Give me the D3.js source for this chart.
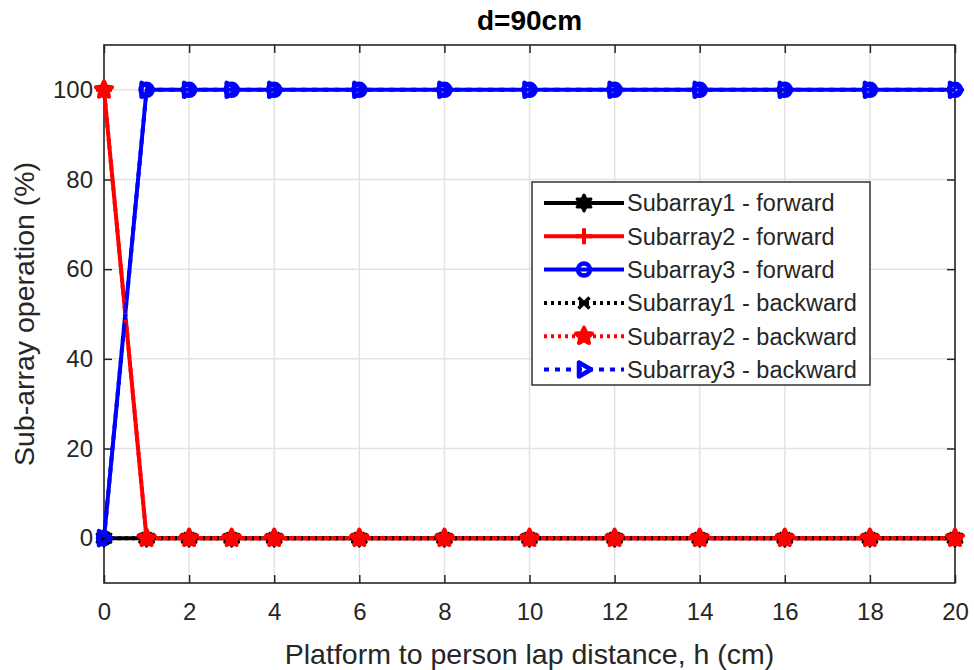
<!DOCTYPE html>
<html><head><meta charset="utf-8">
<script src="https://cdn.jsdelivr.net/npm/d3@7"></script>
<style>body{margin:0;background:#fff;} svg{display:block;font-family:"Liberation Sans",Arial,sans-serif;}</style>
</head><body>
<svg id="c" width="974" height="670"></svg>
<script>
const hValues = [0,1,2,3,4,6,8,10,12,14,16,18,20];
const sub1Forward = [0,0,0,0,0,0,0,0,0,0,0,0,0];
const sub2Forward = [100,0,0,0,0,0,0,0,0,0,0,0,0];
const sub3Forward = [0,100,100,100,100,100,100,100,100,100,100,100,100];
const sub1Backward = [0,0,0,0,0,0,0,0,0,0,0,0,0];
const sub2Backward = [100,0,0,0,0,0,0,0,0,0,0,0,0];
const sub3Backward = [0,100,100,100,100,100,100,100,100,100,100,100,100];
const seriesNames = ["Subarray1 - forward","Subarray2 - forward","Subarray3 - forward","Subarray1 - backward","Subarray2 - backward","Subarray3 - backward"];
const xTicks = [0,2,4,6,8,10,12,14,16,18,20];
const yTicks = [0,20,40,60,80,100];
const titleText = "d=90cm";
const xLabel = "Platform to person lap distance, h (cm)";
const yLabel = "Sub-array operation (%)";

const styles = [
  {color:"#000000", dash:null, marker:"hexagram"},
  {color:"#ff0000", dash:null, marker:"plus"},
  {color:"#0000ff", dash:null, marker:"circle"},
  {color:"#000000", dash:"3,4", marker:"x"},
  {color:"#ff0000", dash:"3,4", marker:"pentagram"},
  {color:"#0000ff", dash:"5,6", marker:"triright"}
];
const allData = [sub1Forward,sub2Forward,sub3Forward,sub1Backward,sub2Backward,sub3Backward];

const svg = d3.select("#c");
const L=104, R=955, T=45, B=583;
const x = d3.scaleLinear().domain([0,20]).range([L,R]);
const y = d3.scaleLinear().domain([-10,110]).range([B,T]);
const axisCol = "#262626";

// grid
const g = svg.append("g");
g.selectAll(".gx").data(xTicks).join("line").attr("x1",d=>x(d)).attr("x2",d=>x(d)).attr("y1",T).attr("y2",B).attr("stroke","#e3e3e3").attr("stroke-width",1.5);
g.selectAll(".gy").data(yTicks).join("line").attr("y1",d=>y(d)).attr("y2",d=>y(d)).attr("x1",L).attr("x2",R).attr("stroke","#e3e3e3").attr("stroke-width",1.5);

// axes
const xAxis = d3.axisBottom(x).tickValues(xTicks).tickSize(-8).tickPadding(20).tickFormat(d3.format("d"));
const xAxisT = d3.axisTop(x).tickValues(xTicks).tickSize(-8).tickFormat("");
const yAxis = d3.axisLeft(y).tickValues(yTicks).tickSize(-8).tickPadding(11).tickFormat(d3.format("d"));
const yAxisR = d3.axisRight(y).tickValues(yTicks).tickSize(-8).tickFormat("");
function styleAx(s){ s.select(".domain").remove(); s.selectAll("line").attr("stroke",axisCol).attr("stroke-width",1.5);
  s.selectAll("text").attr("fill",axisCol).attr("font-size",24).attr("font-family","Liberation Sans, Arial, sans-serif"); }
svg.append("g").attr("transform",`translate(0,${B})`).call(xAxis).call(styleAx);
svg.append("g").attr("transform",`translate(0,${T})`).call(xAxisT).call(styleAx);
svg.append("g").attr("transform",`translate(${L},0)`).call(yAxis).call(styleAx);
svg.append("g").attr("transform",`translate(${R},0)`).call(yAxisR).call(styleAx);
svg.append("rect").attr("x",L).attr("y",T).attr("width",R-L).attr("height",B-T).attr("fill","none").attr("stroke",axisCol).attr("stroke-width",1.6);

// marker shapes
function starPath(n, ro, ri){
  let p=[]; for(let i=0;i<2*n;i++){ const r=i%2?ri:ro; const a=-Math.PI/2+i*Math.PI/n; p.push([r*Math.cos(a), r*Math.sin(a)]); }
  return "M"+p.map(q=>q.join(",")).join("L")+"Z";
}
function drawMarker(sel, type, cx, cy, color){
  const m = sel.append("path").attr("transform",`translate(${cx},${cy})`).attr("stroke",color).attr("stroke-width",4).attr("fill","none").attr("stroke-linejoin","round");
  if(type==="circle") m.attr("d","M6,0A6,6 0 1,1 -6,0A6,6 0 1,1 6,0Z").attr("stroke-width",4.5);
  else if(type==="plus") m.attr("d","M-8,0L8,0M0,-8L0,8");
  else if(type==="x") m.attr("d","M-5.5,-5.5L5.5,5.5M-5.5,5.5L5.5,-5.5").attr("stroke-width",3.5);
  else if(type==="hexagram") m.attr("d",starPath(6,8,4.2)).attr("stroke-width",3).attr("fill",color);
  else if(type==="pentagram") m.attr("d",starPath(5,8.5,4)).attr("stroke-width",4).attr("fill",color);
  else if(type==="triright") m.attr("d","M7,0L-5,-7L-5,7Z").attr("stroke-width",4.5);
}

const line = d3.line().x((d,i)=>x(hValues[i])).y(d=>y(d));
allData.forEach((vals,k)=>{
  const st = styles[k];
  const gg = svg.append("g");
  gg.append("path").attr("d",line(vals)).attr("fill","none").attr("stroke",st.color).attr("stroke-width",4)
    .attr("stroke-dasharray",st.dash).attr("stroke-linejoin","round");
  vals.forEach((v,i)=>drawMarker(gg, st.marker, x(hValues[i]), y(v), st.color));
});

// legend
const lg = svg.append("g");
const lx=532, ly=182, lw=338, lh=203;
lg.append("rect").attr("x",lx).attr("y",ly).attr("width",lw).attr("height",lh).attr("fill","#fff").attr("stroke",axisCol).attr("stroke-width",1.4);
seriesNames.forEach((nm,k)=>{
  const st=styles[k]; const yy = ly+21+k*33.3;
  lg.append("line").attr("x1",lx+12).attr("x2",lx+92).attr("y1",yy).attr("y2",yy).attr("stroke",st.color).attr("stroke-width",4).attr("stroke-dasharray",st.dash);
  drawMarker(lg, st.marker, lx+52, yy, st.color);
  lg.append("text").attr("x",lx+95).attr("y",yy).attr("dy","0.36em").attr("font-size",23.5).attr("fill",axisCol).text(nm);
});

// labels
svg.append("text").attr("x",(L+R)/2).attr("y",30).attr("text-anchor","middle").attr("font-weight","bold").attr("font-size",28).attr("fill","#000").text(titleText);
svg.append("text").attr("x",(L+R)/2).attr("y",664).attr("text-anchor","middle").attr("font-size",28.5).attr("fill",axisCol).text(xLabel);
svg.append("text").attr("transform",`translate(34,${(T+B)/2}) rotate(-90)`).attr("text-anchor","middle").attr("font-size",28.5).attr("fill",axisCol).text(yLabel);
</script>
</body></html>
